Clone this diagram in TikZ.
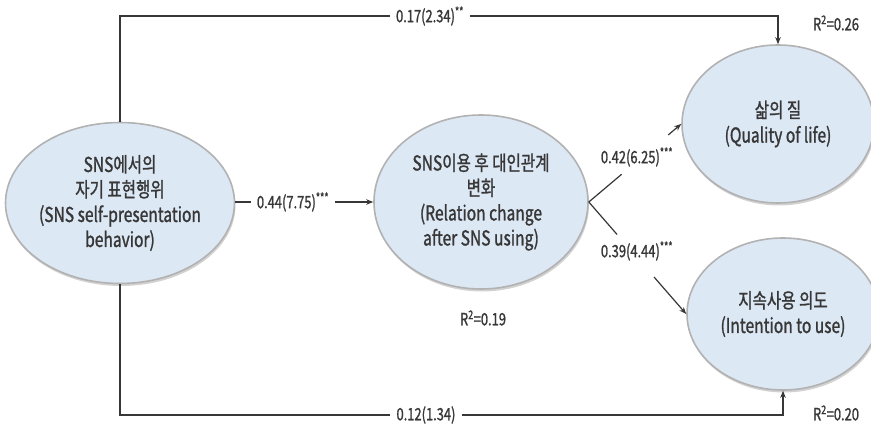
\documentclass[tikz,border=0pt]{standalone}
\usepackage{fontspec}
\setmainfont{Noto Sans CJK KR}[FakeStretch=0.76,FakeBold=1.2]
\usetikzlibrary{shapes.geometric,arrows.meta,shadows,calc}
\definecolor{ellfill}{RGB}{221,232,245}
\definecolor{ellline}{RGB}{178,178,178}
\definecolor{ink}{RGB}{55,55,55}
\tikzset{
  latent/.style={ellipse, draw=ellline, line width=1.6pt, fill=ellfill,
    drop shadow={shadow xshift=1pt, shadow yshift=-2.5pt, opacity=0.35, fill=gray},
    text=ink, align=center, font=\fontsize{20.5}{25}\selectfont, inner sep=0pt},
  conn/.style={draw=ink, line width=1.2pt},
  arr/.style={conn, -{Stealth[length=7pt,width=5.5pt]}},
  lab/.style={text=ink, font=\fontsize{17}{20}\selectfont, inner xsep=6pt, inner ysep=1pt},
  rsq/.style={text=ink, font=\fontsize{17}{20}\selectfont, inner sep=1pt}
}
\begin{document}
\begin{tikzpicture}[x=1pt,y=-1pt]
\clip (0,0) rectangle (871,433);
\fill[white] (0,0) rectangle (871,433);
% latent variables
\node[latent, minimum width=224pt, minimum height=161pt] (sp) at (120,203)
  {SNS에서의\\자기 표현행위\\(SNS self-presentation\\behavior)};
\node[latent, minimum width=214pt, minimum height=174pt] (rc) at (481,202)
  {SNS이용 후 대인관계\\변화\\(Relation change\\after SNS using)};
\node[latent, minimum width=192pt, minimum height=158pt] (qol) at (778,124)
  {삶의 질\\(Quality of life)};
\node[latent, minimum width=192pt, minimum height=152pt] (int) at (783,314)
  {지속사용 의도\\(Intention to use)};
% path labels
\node[lab] (l17) at (430,16) {0.17(2.34)\textsuperscript{**}};
\node[lab] (l12) at (426,415) {0.12(1.34)};
\node[lab] (l44) at (293,202) {0.44(7.75)\textsuperscript{***}};
\node[lab] (l42) at (637,157) {0.42(6.25)\textsuperscript{***}};
\node[lab] (l39) at (637,251) {0.39(4.44)\textsuperscript{***}};
% R squared
\node[rsq] (r26) at (836,23) {R\textsuperscript{2}=0.26};
\node[rsq] (r19) at (483,318) {R\textsuperscript{2}=0.19};
\node[rsq] (r20) at (836,413) {R\textsuperscript{2}=0.20};
% connectors
\draw[conn] (sp.north) |- (l17.west);
\draw[arr] (l17.east) -| (qol.north);
\draw[conn] (sp.south) |- (l12.west);
\draw[arr] (l12.east) -| (int.south);
\draw[conn] (l44.west -| sp.east) -- (l44.west);
\draw[arr] (l44.east) -- (l44.east -| rc.west);
\coordinate (v) at (rc.east);
\draw[conn] (v) -- ($(v)!0.355!(qol.west)$);
\draw[arr] ($(v)!0.86!(qol.west)$) -- (qol.west);
\draw[conn] (v) -- ($(v)!0.29!(int.west)$);
\draw[arr] ($(v)!0.67!(int.west)$) -- (int.west);
\end{tikzpicture}
\end{document}
